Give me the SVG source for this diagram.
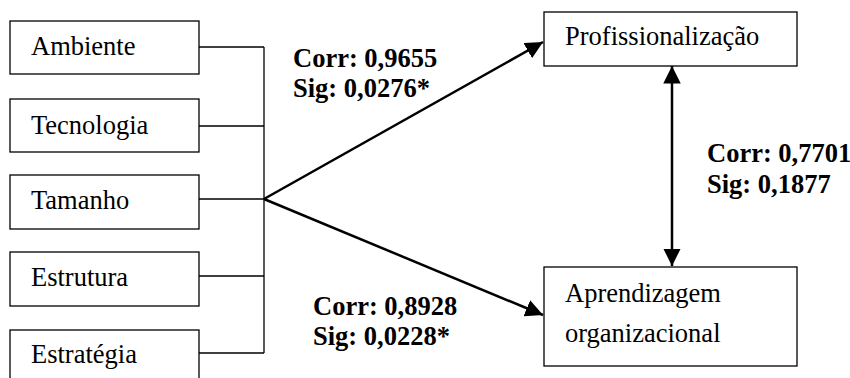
<svg xmlns="http://www.w3.org/2000/svg" width="850" height="378" viewBox="0 0 850 378">
<defs>
<style>
.box{fill:#fff;stroke:#000;stroke-width:1.3}
.t{font-family:"Liberation Serif","Times New Roman",serif;font-size:26.5px;fill:#000}
.b{font-family:"Liberation Serif","Times New Roman",serif;font-size:26.5px;font-weight:bold;fill:#000}
.thin{stroke:#000;stroke-width:1.3;fill:none}
.thick{stroke:#000;stroke-width:2.5;fill:none}
</style>
<marker id="ah" viewBox="0 0 10 10" refX="10" refY="5" markerWidth="7" markerHeight="7" markerUnits="strokeWidth" orient="auto-start-reverse">
<path d="M0,0 L10,5 L0,10 z" fill="#000"/>
</marker>
</defs>
<rect width="850" height="378" fill="#fff"/>
<g id="connectors">
<path class="thin" d="M199,47 H264 M199,126 H264 M199,199 H264 M199,276 H264 M199,353 H264 M264,47 V353"/>
<line class="thick" x1="264" y1="199" x2="543" y2="42" marker-end="url(#ah)"/>
<line class="thick" x1="264" y1="199" x2="543" y2="315" marker-end="url(#ah)"/>
<line class="thick" x1="672" y1="66" x2="672" y2="266" marker-start="url(#ah)" marker-end="url(#ah)"/>
<text class="b" x="293" y="67">Corr: 0,9655</text>
<text class="b" x="293" y="97">Sig: 0,0276*</text>
<text class="b" x="313" y="315">Corr: 0,8928</text>
<text class="b" x="313" y="345">Sig: 0,0228*</text>
<text class="b" x="707" y="162">Corr: 0,7701</text>
<text class="b" x="707" y="193">Sig: 0,1877</text>
</g>
<g id="ambiente"><rect class="box" x="10" y="21" width="189" height="53"/><text class="t" x="31" y="55">Ambiente</text></g>
<g id="tecnologia"><rect class="box" x="10" y="99" width="189" height="53"/><text class="t" x="31" y="134">Tecnologia</text></g>
<g id="tamanho"><rect class="box" x="10" y="175" width="189" height="54"/><text class="t" x="31" y="209">Tamanho</text></g>
<g id="estrutura"><rect class="box" x="10" y="252" width="189" height="54"/><text class="t" x="31" y="286">Estrutura</text></g>
<g id="estrategia"><rect class="box" x="10" y="330" width="189" height="60"/><text class="t" x="31" y="363">Estratégia</text></g>
<g id="profissionalizacao"><rect class="box" x="544" y="12" width="253" height="54"/><text class="t" x="565" y="45">Profissionalização</text></g>
<g id="aprendizagem"><rect class="box" x="544" y="267" width="253" height="99"/><text class="t" x="565" y="302">Aprendizagem</text><text class="t" x="565" y="342">organizacional</text></g>
</svg>
